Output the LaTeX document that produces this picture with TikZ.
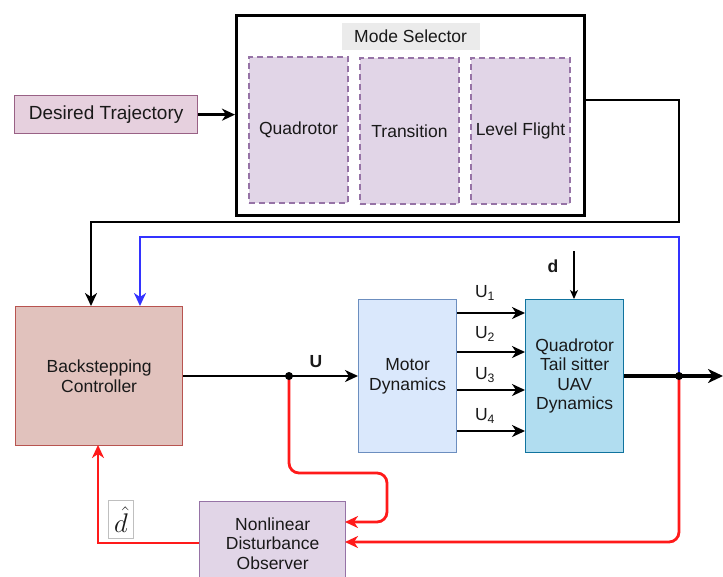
\documentclass[tikz,border=0pt]{standalone}
\usepackage{fontspec}
\usepackage{graphicx}
\setmainfont{Liberation Sans}
\usetikzlibrary{arrows.meta}
\definecolor{pinkfill}{HTML}{E6D0DE}
\definecolor{pinkdraw}{HTML}{996185}
\definecolor{purpfill}{HTML}{E1D5E7}
\definecolor{purpdraw}{HTML}{9673A6}
\definecolor{ctrlfill}{HTML}{E1C2BD}
\definecolor{ctrldraw}{HTML}{B85450}
\definecolor{motfill}{HTML}{DAE8FC}
\definecolor{motdraw}{HTML}{6C8EBF}
\definecolor{quadfill}{HTML}{B1DDF0}
\definecolor{quaddraw}{HTML}{10739E}
\definecolor{labgray}{HTML}{EBEBEB}
\definecolor{fbred}{HTML}{FF1A1A}
\definecolor{fbblue}{HTML}{3333FF}
\begin{document}
\begin{tikzpicture}[x=1pt,y=-1pt,
  txt/.style={font=\fontsize{17.5}{19.5}\selectfont, align=center, text=black!90},
  box/.style={txt, rectangle, anchor=north west, inner sep=0pt, line width=1.3pt},
  sub/.style={box, fill=purpfill, draw=purpdraw, dashed, dash pattern=on 6pt off 4pt, line width=2pt, minimum width=99pt, minimum height=146pt},
  tip/.style={-{Stealth[length=13pt,width=12pt,inset=4pt]}},
  smalltip/.style={-{Stealth[length=9pt,width=8pt,inset=2.5pt]}},
  conn/.style={line width=2.6pt, black},
  redc/.style={line width=2.8pt, fbred, rounded corners=10pt},
  bluec/.style={line width=2.6pt, fbblue},
  dotn/.style={circle, fill=black, inner sep=0pt, minimum size=8pt}
]
\useasboundingbox (0,0) rectangle (723,576);
% nodes
\node[box, fill=pinkfill, draw=pinkdraw, minimum width=183pt, minimum height=38pt, font=\fontsize{19}{21}\selectfont] (des) at (14,95) {Desired Trajectory};
\node[box, draw=black, line width=2.8pt, minimum width=348pt, minimum height=200pt] (mode) at (235,14) {};
\node[box, fill=labgray, minimum width=138pt, minimum height=27pt] (modelab) at (341,22) {Mode Selector};
\node[sub] (qd) at (248,56) {Quadrotor};
\node[sub] (tr) at (359,57) {Transition};
\node[sub] (lf) at (470,57) {Level Flight};
\node[box, fill=ctrlfill, draw=ctrldraw, minimum width=167pt, minimum height=139pt] (ctrl) at (15,306) {Backstepping\\Controller};
\node[box, fill=motfill, draw=motdraw, minimum width=98pt, minimum height=153pt] (mot) at (358,299) {Motor\\Dynamics};
\node[box, fill=quadfill, draw=quaddraw, minimum width=98pt, minimum height=153pt] (quad) at (525,299) {Quadrotor\\Tail sitter\\UAV\\Dynamics};
\node[box, fill=purpfill, draw=purpdraw, minimum width=146pt, minimum height=84pt] (obs) at (199,501) {Nonlinear\\Disturbance\\Observer};
\node[box, draw=black!25, fill=white, line width=0.8pt, minimum width=25pt, minimum height=38pt, font=\fontsize{20}{22}\selectfont] (dhat) at (108,500) {\scalebox{1.3}{$\hat{d}$}};
% labels
\node[txt, font=\bfseries\fontsize{17.5}{19.5}\selectfont] (ulab) at (316,362) {U};
\node[txt, font=\bfseries\fontsize{17.5}{19.5}\selectfont] (dlab) at (553,266) {d};
\node[txt] (u1) at (485,293) {U\textsubscript{1}};
\node[txt] (u2) at (485,334) {U\textsubscript{2}};
\node[txt] (u3) at (485,375) {U\textsubscript{3}};
\node[txt] (u4) at (485,416) {U\textsubscript{4}};
% coordinates
\coordinate (j1) at (289,376);
\coordinate (j2) at (679,376);
\coordinate (outend) at (723,376);
\coordinate (modeout) at (583,100);
\coordinate (k1) at (679,100);
\coordinate (k2) at (679,222);
\coordinate (k3) at (91,222);
\coordinate (cin1) at (91,306);
\coordinate (b1) at (679,237);
\coordinate (b2) at (140,237);
\coordinate (cin2) at (140,306);
\coordinate (dtop) at (574,251);
\coordinate (r1) at (289,473);
\coordinate (r2) at (387,473);
\coordinate (r3) at (387,522);
\coordinate (oin1) at (345,522);
\coordinate (r4) at (679,542);
\coordinate (oin2) at (345,542);
\coordinate (r5) at (98,543);
\coordinate (cin3) at (98,445);
% connectors
\draw[conn, tip] (des.east) -- (des.east -| mode.west);
\draw[conn, tip] (modeout) -- (k1) -- (k2) -- (k3) -- (cin1);
\draw[bluec, tip] (j2) -- (b1) -- (b2) -- (cin2);
\draw[conn] (ctrl.east |- j1) -- (j1);
\draw[conn, tip] (j1) -- (mot.west |- j1);
\foreach \yy in {313,352,390,431}{
  \draw[conn, tip] (mot.east |- 0,\yy) -- (quad.west |- 0,\yy);
}
\draw[line width=1.2pt, smalltip] (dtop) -- (dtop |- quad.north);
\draw[line width=4pt, -{Stealth[length=15pt,width=14pt,inset=4.5pt]}] (quad.east |- j2) -- (outend);
\draw[redc, tip] (j1) -- (r1) -- (r2) -- (r3) -- (oin1);
\draw[redc, tip] (j2) -- (r4) -- (oin2);
\draw[line width=2.8pt, fbred, tip] (obs.west |- r5) -- (r5) -- (cin3);
\node[dotn] (d1) at (j1) {};
\node[dotn] (d2) at (j2) {};
\end{tikzpicture}
\end{document}
